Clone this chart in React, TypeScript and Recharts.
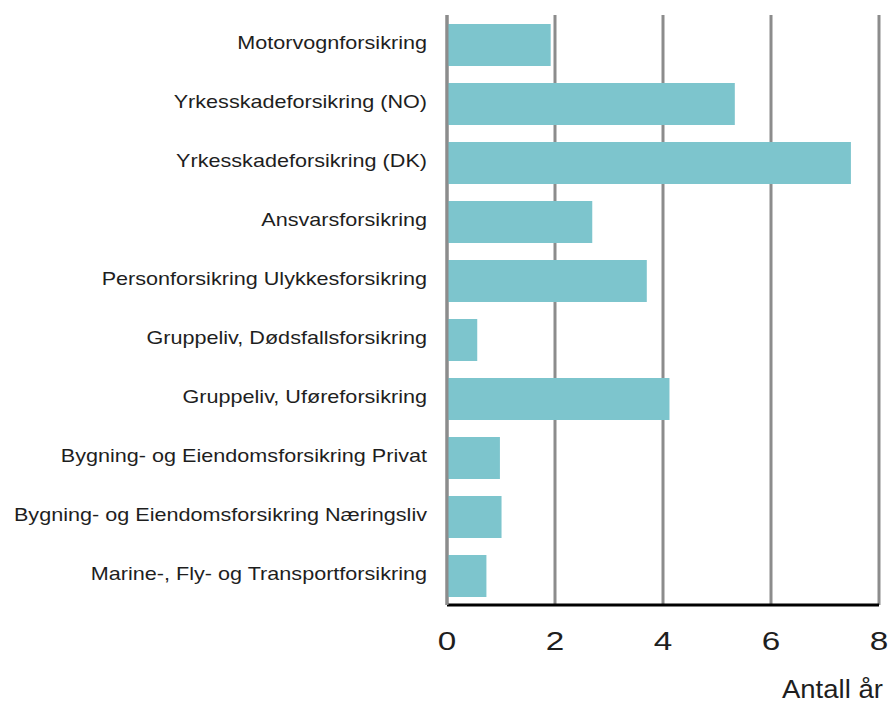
import React from 'react';
import { BarChart, Bar, XAxis, YAxis, CartesianGrid } from 'recharts';

const categories = [
  'Motorvognforsikring',
  'Yrkesskadeforsikring (NO)',
  'Yrkesskadeforsikring (DK)',
  'Ansvarsforsikring',
  'Personforsikring Ulykkesforsikring',
  'Gruppeliv, Dødsfallsforsikring',
  'Gruppeliv, Uføreforsikring',
  'Bygning- og Eiendomsforsikring Privat',
  'Bygning- og Eiendomsforsikring Næringsliv',
  'Marine-, Fly- og Transportforsikring',
];
const years = [1.92, 5.33, 7.48, 2.69, 3.7, 0.56, 4.12, 0.98, 1.01, 0.73];
const xTicks = [0, 2, 4, 6, 8];
const xLabel = 'Antall år';

const data = categories.map((name, i) => ({ name, value: years[i] }));

const FONT = '"Liberation Sans", Arial, sans-serif';

const YTick = (props: any) => {
  const { x, y, payload } = props;
  return (
    <g transform={`translate(${x},${y})`}>
      <text
        transform="scale(1.235,1)"
        textAnchor="end"
        y={-2}
        dy="0.355em"
        fontSize={17.5}
        fill="#1e1e1e"
        fontFamily={FONT}
      >
        {payload.value}
      </text>
    </g>
  );
};

const XTick = (props: any) => {
  const { x, y, payload } = props;
  return (
    <g transform={`translate(${x},${y})`}>
      <text
        transform="scale(1.28,1)"
        textAnchor="middle"
        y={45}
        fontSize={26}
        fill="#1e1e1e"
        fontFamily={FONT}
      >
        {payload.value}
      </text>
    </g>
  );
};

const XLabel = (props: any) => {
  const vb = props.viewBox || { x: 439, y: 597 };
  return (
    <g transform={`translate(${vb.x + 335},${vb.y + 93})`}>
      <text transform="scale(1.1,1)" fontSize={25} fill="#1e1e1e" fontFamily={FONT}>
        {xLabel}
      </text>
    </g>
  );
};

export default function App() {
  return (
    <div style={{ position: 'fixed', inset: 0, overflow: 'hidden', background: '#fff' }}>
      <div style={{ position: 'absolute', left: 8, top: 8 }}>
        <BarChart
          width={886}
          height={698}
          data={data}
          layout="vertical"
          margin={{ top: 7, right: 15, left: 0, bottom: 0 }}
        >
          <CartesianGrid horizontal={false} vertical stroke="#8c8c8c" strokeWidth={3} />
          <XAxis
            type="number"
            domain={[0, 8]}
            ticks={xTicks}
            height={101}
            tickSize={0}
            tickMargin={0}
            tickLine={false}
            axisLine={{ stroke: '#000', strokeWidth: 3 }}
            tick={<XTick />}
            label={{ value: xLabel, content: <XLabel /> }}
          />
          <YAxis
            type="category"
            dataKey="name"
            width={439}
            tickSize={0}
            tickMargin={20}
            tickLine={false}
            axisLine={{ stroke: '#8c8c8c', strokeWidth: 3 }}
            tick={<YTick />}
            interval={0}
          />
          <Bar dataKey="value" fill="#7dc5cd" barSize={42} isAnimationActive={false} />
        </BarChart>
      </div>
    </div>
  );
}
